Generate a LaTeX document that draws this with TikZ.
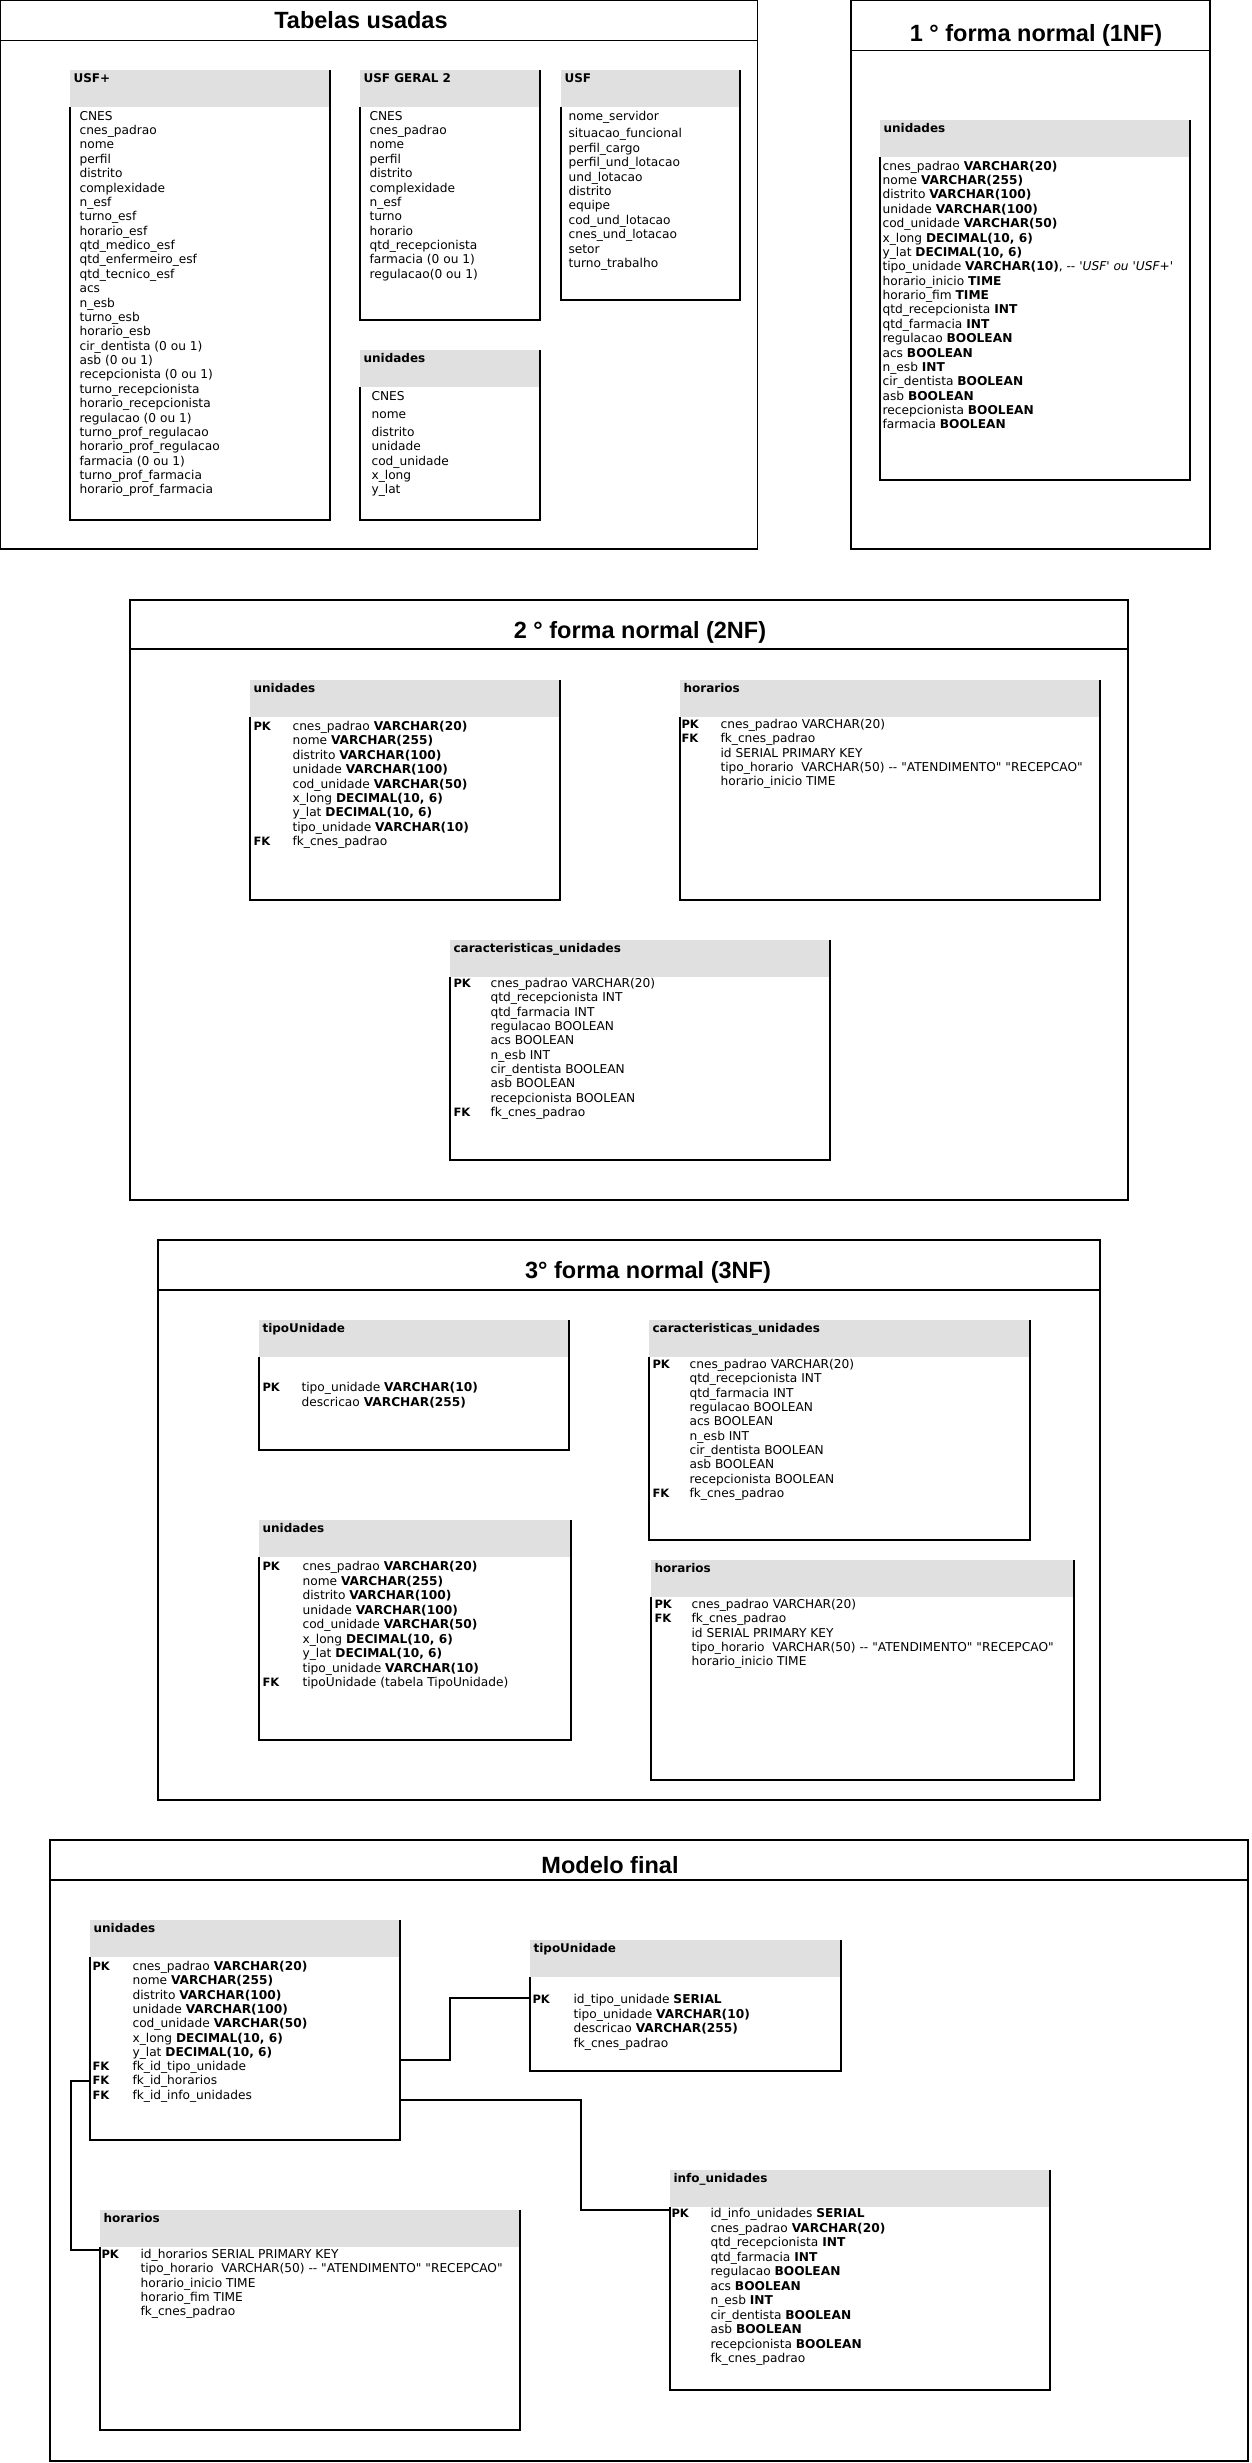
\documentclass[tikz,border=0pt]{standalone}
\usepackage{fontspec}
\usepackage{xcolor}
\usepackage{tikz}
\newfontfamily\bodyfont{DejaVu Sans}
\newfontfamily\titlefont{Liberation Sans}
\definecolor{hdrgray}{HTML}{E0E0E0}
\newcommand\rowstrut{\rule{0pt}{10pt}}
% table: name, x, y, width, height, title
\newcommand\dbtable[6]{%
  \node (#1) at (#2,#3) [tblbox, minimum width=#4pt, minimum height=#5pt] {};
  \node (#1h) at (#2,#3) [hdrbox, minimum width=#4pt] {};
  \draw (#1.north east) -- (#1.south east) -- (#1.south west) -- (#1h.south west);
  \node (#1t) at ([xshift=3pt,yshift=-12.5pt]#1.north west) [hdrtext] {#6};
}

\begin{document}
\begin{tikzpicture}[x=1pt, y=-1pt, line width=1.1pt,
  tblbox/.style={anchor=north west, inner sep=0pt, outer sep=0pt},
  hdrbox/.style={anchor=north west, inner sep=0pt, outer sep=0pt, fill=hdrgray, minimum height=37pt},
  hdrtext/.style={anchor=base west, inner sep=0pt, font=\bodyfont\bfseries\fontsize{12}{14}\selectfont},
  rowtext/.style={anchor=north west, inner sep=0pt, align=left, font=\bodyfont\fontsize{12.2}{#1}\selectfont},
  rowtext/.default=14.3,
  rowkeys/.style={anchor=north west, inner sep=0pt, align=left, font=\bodyfont\bfseries\fontsize{11.5}{#1}\selectfont},
  rowkeys/.default=14.3,
  frm/.style={draw, line width=1.2pt, anchor=north west, inner sep=0pt, outer sep=0pt},
  ttl/.style={anchor=base, inner sep=0pt, font=\titlefont\bfseries\fontsize{23.5}{28}\selectfont}]
\useasboundingbox (0,0) rectangle (1252,2463);
%%
\node (fUsed) at (0.6,0.6) [frm, minimum width=757pt, minimum height=548.4pt] {};
\draw ([yshift=-39.7pt]fUsed.north west) -- ([yshift=-39.7pt]fUsed.north east);
\node (fUsedT) at (361,28.8) [ttl] {Tabelas usadas};
\dbtable{usfp}{70}{70}{260}{450}{USF+}
\dbtable{usfg}{360}{70}{180}{250}{USF GERAL 2}
\dbtable{usf}{561}{70}{179}{230}{USF}
\dbtable{tUni}{360}{350}{180}{170}{unidades}
\node (usfpF) at (79,109.7) [rowtext=14.37] {\rowstrut CNES\\ cnes\_padrao\\ nome\\ perfil\\ distrito\\ complexidade\\ n\_esf\\ turno\_esf\\ horario\_esf\\ qtd\_medico\_esf\\ qtd\_enfermeiro\_esf\\ qtd\_tecnico\_esf\\ acs\\ n\_esb\\ turno\_esb\\ horario\_esb\\ cir\_dentista (0 ou 1)\\ asb (0 ou 1)\\ recepcionista (0 ou 1)\\ turno\_recepcionista\\ horario\_recepcionista\\ regulacao (0 ou 1)\\ turno\_prof\_regulacao\\ horario\_prof\_regulacao\\ farmacia (0 ou 1)\\ turno\_prof\_farmacia\\ horario\_prof\_farmacia};
\node (usfgF) at (369,109.7) [rowtext=14.35] {\rowstrut CNES\\ cnes\_padrao\\ nome\\ perfil\\ distrito\\ complexidade\\ n\_esf\\ turno\\ horario\\ qtd\_recepcionista\\ farmacia (0 ou 1)\\ regulacao(0 ou 1)};
\node (usfF) at (568,109.7) [rowtext=14.42] {\rowstrut nome\_servidor\\[3.2pt] situacao\_funcional\\ perfil\_cargo\\ perfil\_und\_lotacao\\ und\_lotacao\\ distrito\\ equipe\\ cod\_und\_lotacao\\ cnes\_und\_lotacao\\ setor\\ turno\_trabalho};
\node (tUniF) at (371,389.6) [rowtext=14.3] {\rowstrut CNES\\[4pt] nome\\[3.9pt] distrito\\ unidade\\ cod\_unidade\\ x\_long\\ y\_lat};
%%
\node (fOne) at (851,0.6) [frm, minimum width=359pt, minimum height=548.4pt] {};
\draw ([yshift=-50.3pt]fOne.north west) -- ([yshift=-50.3pt]fOne.north east);
\node (fOneT) at (1036,41.4) [ttl] {1 ° forma normal (1NF)};
\dbtable{nfaUni}{880}{120}{310}{360}{unidades}
\node (nfaUniF) at (882,159.6) [rowtext=14.38] {\rowstrut cnes\_padrao \textbf{VARCHAR(20)}\\ nome \textbf{VARCHAR(255)}\\ distrito \textbf{VARCHAR(100)}\\ unidade \textbf{VARCHAR(100)}\\ cod\_unidade \textbf{VARCHAR(50)}\\ x\_long \textbf{DECIMAL(10, 6)}\\ y\_lat \textbf{DECIMAL(10, 6)}\\ tipo\_unidade \textbf{VARCHAR(10)}, -\kern0pt- \textit{'USF' ou 'USF+'}\\ horario\_inicio \textbf{TIME}\\ horario\_fim \textbf{TIME}\\ qtd\_recepcionista \textbf{INT}\\ qtd\_farmacia \textbf{INT}\\ regulacao \textbf{BOOLEAN}\\ acs \textbf{BOOLEAN}\\ n\_esb \textbf{INT}\\ cir\_dentista \textbf{BOOLEAN}\\ asb \textbf{BOOLEAN}\\ recepcionista \textbf{BOOLEAN}\\ farmacia \textbf{BOOLEAN}};
%%
\node (fTwo) at (130,600) [frm, minimum width=998pt, minimum height=600pt] {};
\draw ([yshift=-49pt]fTwo.north west) -- ([yshift=-49pt]fTwo.north east);
\node (fTwoT) at (640,638.5) [ttl] {2 ° forma normal (2NF)};
\dbtable{nfbUni}{250}{680}{310}{220}{unidades}
\dbtable{nfbHor}{680}{680}{420}{220}{horarios}
\dbtable{nfbCar}{450}{940}{380}{220}{caracteristicas\_unidades}
\node (nfbUniK) at (253,720) [rowkeys=14.4] {\rowstrut PK\\ \\ \\ \\ \\ \\ \\ \\ FK};
\node (nfbUniF) at (292,720) [rowtext=14.4] {\rowstrut cnes\_padrao \textbf{VARCHAR(20)}\\ nome \textbf{VARCHAR(255)}\\ distrito \textbf{VARCHAR(100)}\\ unidade \textbf{VARCHAR(100)}\\ cod\_unidade \textbf{VARCHAR(50)}\\ x\_long \textbf{DECIMAL(10, 6)}\\ y\_lat \textbf{DECIMAL(10, 6)}\\ tipo\_unidade \textbf{VARCHAR(10)}\\ fk\_cnes\_padrao};
\node (nfbHorK) at (681,718) [rowkeys=14.25] {\rowstrut PK\\ FK};
\node (nfbHorF) at (720,718) [rowtext=14.25] {\rowstrut cnes\_padrao VARCHAR(20)\\ fk\_cnes\_padrao\\ id SERIAL PRIMARY KEY\\ tipo\_horario\ \ VARCHAR(50) -\kern0pt- "ATENDIMENTO" "RECEPCAO"\\ horario\_inicio TIME};
\node (nfbCarK) at (453,977) [rowkeys=14.33] {\rowstrut PK\\ \\ \\ \\ \\ \\ \\ \\ \\ FK};
\node (nfbCarF) at (490,977) [rowtext=14.33] {\rowstrut cnes\_padrao VARCHAR(20)\\ qtd\_recepcionista INT\\ qtd\_farmacia INT\\ regulacao BOOLEAN\\ acs BOOLEAN\\ n\_esb INT\\ cir\_dentista BOOLEAN\\ asb BOOLEAN\\ recepcionista BOOLEAN\\ fk\_cnes\_padrao};
%%
\node (fThree) at (158,1240) [frm, minimum width=942pt, minimum height=560pt] {};
\draw ([yshift=-50pt]fThree.north west) -- ([yshift=-50pt]fThree.north east);
\node (fThreeT) at (648,1278.5) [ttl] {3° forma normal (3NF)};
\dbtable{nfcTipo}{259}{1320}{310}{130}{tipoUnidade}
\dbtable{nfcCar}{649}{1320}{381}{220}{caracteristicas\_unidades}
\dbtable{nfcUni}{259}{1520}{312}{220}{unidades}
\dbtable{nfcHor}{651}{1560}{423}{220}{horarios}
\node (nfcTipoK) at (262,1381) [rowkeys=15] {\rowstrut PK};
\node (nfcTipoF) at (301,1381) [rowtext=15] {\rowstrut tipo\_unidade \textbf{VARCHAR(10)}\\ descricao \textbf{VARCHAR(255)}};
\node (nfcCarK) at (652,1358) [rowkeys=14.33] {\rowstrut PK\\ \\ \\ \\ \\ \\ \\ \\ \\ FK};
\node (nfcCarF) at (689,1358) [rowtext=14.33] {\rowstrut cnes\_padrao VARCHAR(20)\\ qtd\_recepcionista INT\\ qtd\_farmacia INT\\ regulacao BOOLEAN\\ acs BOOLEAN\\ n\_esb INT\\ cir\_dentista BOOLEAN\\ asb BOOLEAN\\ recepcionista BOOLEAN\\ fk\_cnes\_padrao};
\node (nfcUniK) at (262,1560) [rowkeys=14.5] {\rowstrut PK\\ \\ \\ \\ \\ \\ \\ \\ FK};
\node (nfcUniF) at (302,1560) [rowtext=14.5] {\rowstrut cnes\_padrao \textbf{VARCHAR(20)}\\ nome \textbf{VARCHAR(255)}\\ distrito \textbf{VARCHAR(100)}\\ unidade \textbf{VARCHAR(100)}\\ cod\_unidade \textbf{VARCHAR(50)}\\ x\_long \textbf{DECIMAL(10, 6)}\\ y\_lat \textbf{DECIMAL(10, 6)}\\ tipo\_unidade \textbf{VARCHAR(10)}\\ tipoUnidade (tabela TipoUnidade)};
\node (nfcHorK) at (654,1598) [rowkeys=14.25] {\rowstrut PK\\ FK};
\node (nfcHorF) at (691,1598) [rowtext=14.25] {\rowstrut cnes\_padrao VARCHAR(20)\\ fk\_cnes\_padrao\\ id SERIAL PRIMARY KEY\\ tipo\_horario\ \ VARCHAR(50) -\kern0pt- "ATENDIMENTO" "RECEPCAO"\\ horario\_inicio TIME};
%%
\node (fFinal) at (50,1840) [frm, minimum width=1198pt, minimum height=621pt] {};
\draw ([yshift=-40pt]fFinal.north west) -- ([yshift=-40pt]fFinal.north east);
\node (fFinalT) at (610,1873.5) [ttl] {Modelo final};
\dbtable{mfUni}{90}{1920}{310}{220}{unidades}
\dbtable{mfTipo}{530}{1940}{311}{131}{tipoUnidade}
\dbtable{mfHor}{100}{2210}{420}{220}{horarios}
\dbtable{mfInfo}{670}{2170}{380}{220}{info\_unidades}
\node (mfUniK) at (92,1960) [rowkeys=14.3] {\rowstrut PK\\ \\ \\ \\ \\ \\ \\ FK\\ FK\\ FK};
\node (mfUniF) at (132,1960) [rowtext=14.3] {\rowstrut cnes\_padrao \textbf{VARCHAR(20)}\\ nome \textbf{VARCHAR(255)}\\ distrito \textbf{VARCHAR(100)}\\ unidade \textbf{VARCHAR(100)}\\ cod\_unidade \textbf{VARCHAR(50)}\\ x\_long \textbf{DECIMAL(10, 6)}\\ y\_lat \textbf{DECIMAL(10, 6)}\\ fk\_id\_tipo\_unidade\\ fk\_id\_horarios\\ fk\_id\_info\_unidades};
\node (mfTipoK) at (532,1993) [rowkeys=14.7] {\rowstrut PK};
\node (mfTipoF) at (573,1993) [rowtext=14.7] {\rowstrut id\_tipo\_unidade \textbf{SERIAL}\\ tipo\_unidade \textbf{VARCHAR(10)}\\ descricao \textbf{VARCHAR(255)}\\ fk\_cnes\_padrao};
\node (mfHorK) at (101,2248) [rowkeys=14.3] {\rowstrut PK};
\node (mfHorF) at (140,2248) [rowtext=14.3] {\rowstrut id\_horarios SERIAL PRIMARY KEY\\ tipo\_horario\ \ VARCHAR(50) -\kern0pt- "ATENDIMENTO" "RECEPCAO"\\ horario\_inicio TIME\\ horario\_fim TIME\\ fk\_cnes\_padrao};
\node (mfInfoK) at (671,2207) [rowkeys=14.5] {\rowstrut PK};
\node (mfInfoF) at (710,2207) [rowtext=14.5] {\rowstrut id\_info\_unidades \textbf{SERIAL}\\ cnes\_padrao \textbf{VARCHAR(20)}\\ qtd\_recepcionista \textbf{INT}\\ qtd\_farmacia \textbf{INT}\\ regulacao \textbf{BOOLEAN}\\ acs \textbf{BOOLEAN}\\ n\_esb \textbf{INT}\\ cir\_dentista \textbf{BOOLEAN}\\ asb \textbf{BOOLEAN}\\ recepcionista \textbf{BOOLEAN}\\ fk\_cnes\_padrao};
%
\coordinate (jTipo) at (450,2060);
\coordinate (jTipoE) at (450,1998);
\coordinate (jInfo) at (581,2100);
\coordinate (jInfoE) at (581,2210);
\coordinate (jHor) at (71,2081);
\coordinate (jHorE) at (71,2250);
\draw (jTipo -| mfUni.east) -- (jTipo) -- (jTipoE) -- (jTipoE -| mfTipo.west);
\draw (jInfo -| mfUni.east) -- (jInfo) -- (jInfoE) -- (jInfoE -| mfInfo.west);
\draw (jHor -| mfUni.west) -- (jHor) -- (jHorE) -- (jHorE -| mfHor.west);
%
\end{tikzpicture}
\end{document}
